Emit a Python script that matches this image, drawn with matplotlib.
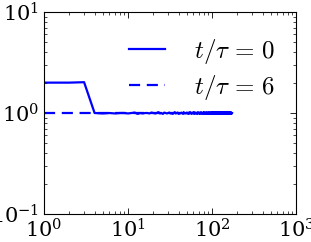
import numpy as np
import matplotlib
matplotlib.use('Agg')
import matplotlib.pyplot as plt

plt.rcParams['mathtext.fontset'] = 'cm'
plt.rcParams['font.family'] = 'DejaVu Serif'

# solid curve (t/tau = 0): values at x = 1, 2, 3, ...
y_t0 = [2.0, 2.0, 2.02, 1.0, 0.99, 1.0, 0.99, 1.0, 1.0, 0.99,
        1.0, 1.01, 0.98, 1.0, 0.99, 1.0, 1.0, 0.99, 1.01, 1.0,
        0.99, 1.0, 1.02, 0.99, 1.0, 0.98, 1.01, 1.0, 0.99, 1.0,
        1.01, 0.99, 1.0, 0.98, 1.0, 1.02, 0.99, 1.0, 1.01, 0.98,
        1.0, 0.99, 1.01, 1.0, 0.98, 1.02, 0.99, 1.0, 0.99, 1.01,
        1.0, 0.98, 1.01, 0.99, 1.02, 1.0, 0.98, 1.0, 1.01, 0.99,
        1.02, 0.98, 1.0, 1.01, 0.99, 1.0, 0.98, 1.02, 1.0, 0.99,
        1.01, 0.98, 1.0, 1.02, 0.99, 1.0, 0.98, 1.01, 0.99, 1.02,
        1.0, 0.98, 1.01, 0.99, 1.0, 1.02, 0.98, 1.0, 1.01, 0.99,
        0.98, 1.02, 1.0, 0.99, 1.01, 0.98, 1.0, 1.02, 0.99, 1.01,
        0.98, 1.0, 1.02, 0.99, 0.98, 1.01, 1.0, 1.02, 0.98, 0.99,
        1.01, 1.0, 0.98, 1.02, 0.99, 1.01, 0.98, 1.0, 1.02, 0.99,
        1.0, 0.98, 1.01, 1.02, 0.99, 0.98, 1.0, 1.01, 0.99, 1.02,
        0.98, 1.0, 1.01, 0.99, 1.02, 0.98, 1.0, 0.99, 1.01, 1.02,
        0.98, 0.99, 1.0, 1.02, 0.98, 1.01, 0.99, 1.0, 1.02, 0.98,
        1.01, 0.99, 1.0, 0.98, 1.02, 1.01, 0.99, 1.0, 0.98, 1.02,
        0.99, 1.01, 1.0, 0.98, 1.02, 0.99, 1.0, 1.01, 0.98, 1.0,
        1.0, 0.99, 1.0]
x_t0 = list(range(1, len(y_t0) + 1))

# dashed curve (t/tau = 6)
y_t6 = [1.0] * len(y_t0)
x_t6 = x_t0

fig = plt.figure(figsize=(3.11, 2.42), dpi=100)
ax = fig.add_axes([0.1415, 0.116, 0.8105, 0.834])

ax.plot(x_t0, y_t0, '-', color='#0000ff', lw=1.6, label=r'$t/\tau\,=\,0$')
ax.plot(x_t6, y_t6, '--', color='#0000ff', lw=1.6, dashes=(5, 3),
        label=r'$t/\tau\,=\,6$')

ax.set_xscale('log')
ax.set_yscale('log')
ax.set_xlim(1, 1000)
ax.set_ylim(0.1, 10)

ax.tick_params(which='both', direction='in', top=True, right=True, labelsize=15)
ax.tick_params(which='major', length=4, width=0.6)
ax.tick_params(which='minor', length=2, width=0.5)
ax.tick_params(axis='x', pad=3)
for s in ax.spines.values():
    s.set_linewidth(0.8)

leg = ax.legend(loc='upper right', frameon=False, fontsize=18,
                handlelength=1.45, handletextpad=1.15, labelspacing=0.28,
                borderaxespad=0.6, bbox_to_anchor=(1.016, 1.0))

plt.savefig('out.png', dpi=100)
